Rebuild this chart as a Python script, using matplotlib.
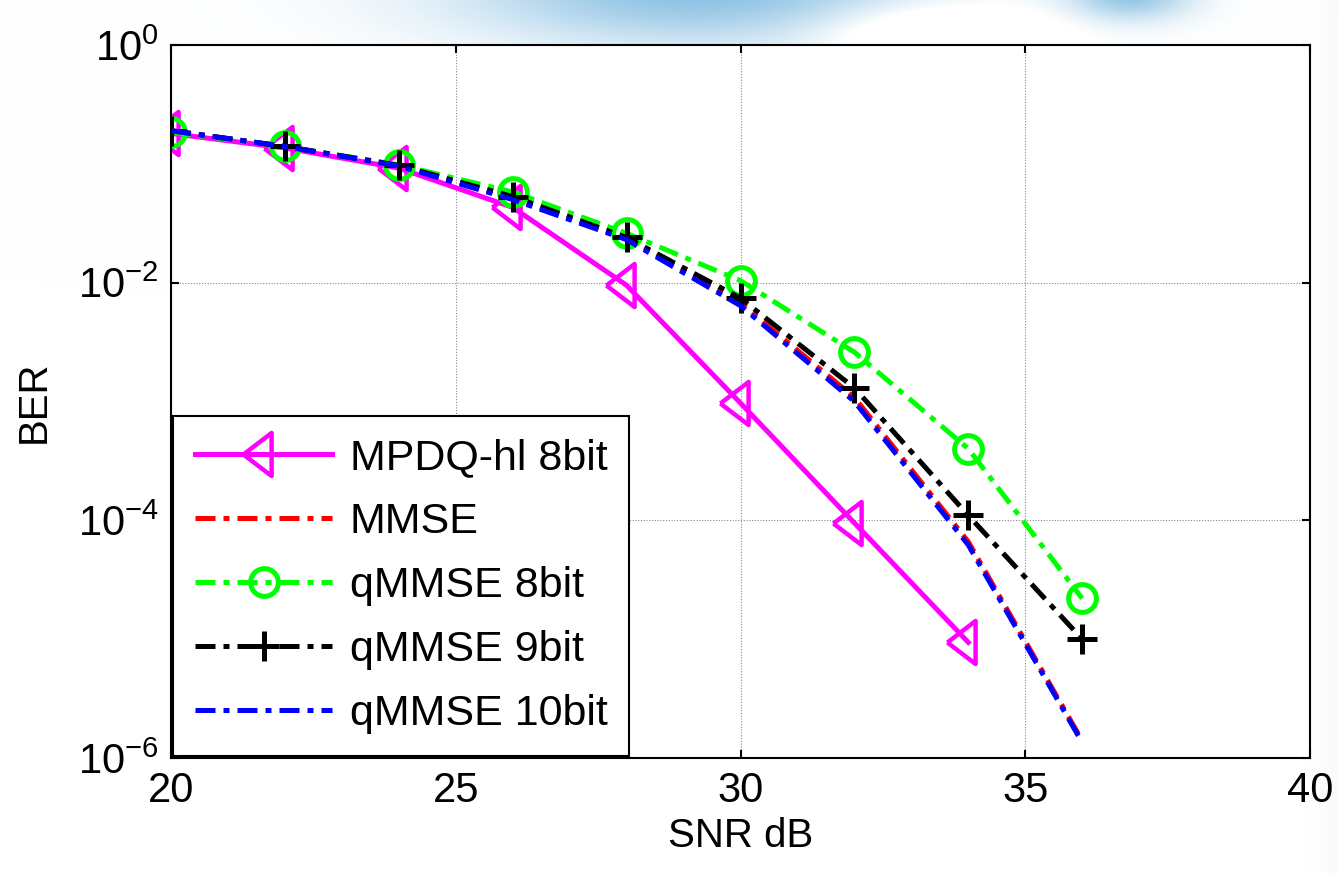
import numpy as np
import matplotlib
matplotlib.use("Agg")
import matplotlib.pyplot as plt

plt.rcParams['font.family'] = ['Liberation Sans', 'DejaVu Sans']
plt.rcParams['mathtext.default'] = 'regular'

# ---- data ----
snr = [20, 22, 24, 26, 28, 30, 32, 34, 36]
snr_mpdq = [20, 22, 24, 26, 28, 30, 32, 34]
ber_mpdq = [0.18, 0.136, 0.092, 0.043, 0.0095, 9.7e-4, 9.5e-5, 9.4e-6]
ber_mmse = [0.19, 0.14, 0.097, 0.051, 0.024, 0.0067, 0.00108, 6.6e-5, 1.4e-6]
ber_q8 = [0.185, 0.14, 0.098, 0.058, 0.026, 0.0104, 0.0026, 4.0e-4, 2.2e-5]
ber_q9 = [0.19, 0.14, 0.097, 0.053, 0.024, 0.0074, 0.0013, 1.1e-4, 1.0e-5]
ber_q10 = [0.19, 0.14, 0.096, 0.050, 0.023, 0.0064, 0.0010, 6.2e-5, 1.35e-6]

labels = ['MPDQ-hl 8bit', 'MMSE', 'qMMSE 8bit', 'qMMSE 9bit', 'qMMSE 10bit']
xticks = [20, 25, 30, 35, 40]
yticks = [1e0, 1e-2, 1e-4, 1e-6]
yticklabels = ['10$^{0}$', '10$^{-2}$', '10$^{-4}$', '10$^{-6}$']

W, H = 1338, 873
fig = plt.figure(figsize=(W / 100, H / 100), dpi=100)

# ---- decorative background (light blue sky at the top) ----
yy, xx = np.mgrid[0:H, 0:W].astype(float)
img = np.ones((H, W, 3))
blue = np.array([0.55, 0.76, 0.89])
def blob(cx, cy, sx, sy, amp):
    return amp * np.exp(-(((xx - cx) / sx) ** 2 + ((yy - cy) / sy) ** 2))
b = blob(700, -10, 240, 55, 1.0) + blob(1130, -5, 60, 25, 0.9) - blob(930, 30, 110, 30, 0.6)
b = np.clip(b, 0, 1)
for c in range(3):
    img[:, :, c] = 1 - b * (1 - blue[c])
side = np.clip((xx - 1305) / 40, 0, 1) * 0.035
img -= side[:, :, None] * np.array([1.0, 0.7, 0.4])
bg = fig.add_axes([0, 0, 1, 1], zorder=-1)
bg.imshow(np.clip(img, 0, 1), aspect='auto', extent=[0, 1, 0, 1])
bg.axis('off')

ax = fig.add_axes([171 / W, 1 - 758 / H, (1310 - 171) / W, (758 - 45) / H])
ax.set_facecolor('white')

lw = 3.6
dd = (4.0, 1.6, 1.2, 1.6)
tri = [(-0.98, 0.0), (0.33, 1.0), (0.33, -1.0), (-0.98, 0.0)]

ax.semilogy(snr_mpdq, ber_mpdq, '-', color='#ff00ff', lw=lw, marker=tri,
            markersize=31, markerfacecolor='none', markeredgewidth=3.2,
            label=labels[0])
ax.semilogy(snr, ber_mmse, color='#ff0000', lw=lw, dashes=dd, label=labels[1])
ax.semilogy(snr, ber_q8, color='#00ff00', lw=lw, dashes=dd, marker='o',
            markersize=20, markerfacecolor='none', markeredgewidth=3.6,
            label=labels[2])
ax.semilogy(snr, ber_q9, color='black', lw=lw, dashes=dd, marker='+',
            markersize=22, markeredgewidth=3.6, label=labels[3])
ax.semilogy(snr, ber_q10, color='#0000ff', lw=lw, dashes=dd, label=labels[4])

ax.set_xlim(20, 40)
ax.set_ylim(1e-6, 1e0)
ax.set_xticks(xticks)
ax.set_xticklabels([str(t) for t in xticks])
ax.set_yticks(yticks)
ax.set_yticklabels(yticklabels)
ax.yaxis.set_minor_locator(matplotlib.ticker.NullLocator())
ax.tick_params(axis='both', which='major', direction='in', length=6, width=1.5,
               top=True, right=True, labelsize=30, pad=9)
ax.grid(True, which='major', linestyle=(0, (1, 1.5)), color='#888888', lw=0.8)
for s in ax.spines.values():
    s.set_linewidth(1.5)
    s.set_color('black')

ax.set_xlabel('SNR dB', fontsize=29, labelpad=5)
ax.set_ylabel('BER', fontsize=29, labelpad=18)

leg = ax.legend(loc='lower left', borderaxespad=0.05, fontsize=31,
                fancybox=False, framealpha=1, edgecolor='black',
                handlelength=3.2, handletextpad=0.4, labelspacing=0.56,
                borderpad=0.5, numpoints=1)
leg.get_frame().set_linewidth(1.5)

fig.savefig('out.png', dpi=100)
